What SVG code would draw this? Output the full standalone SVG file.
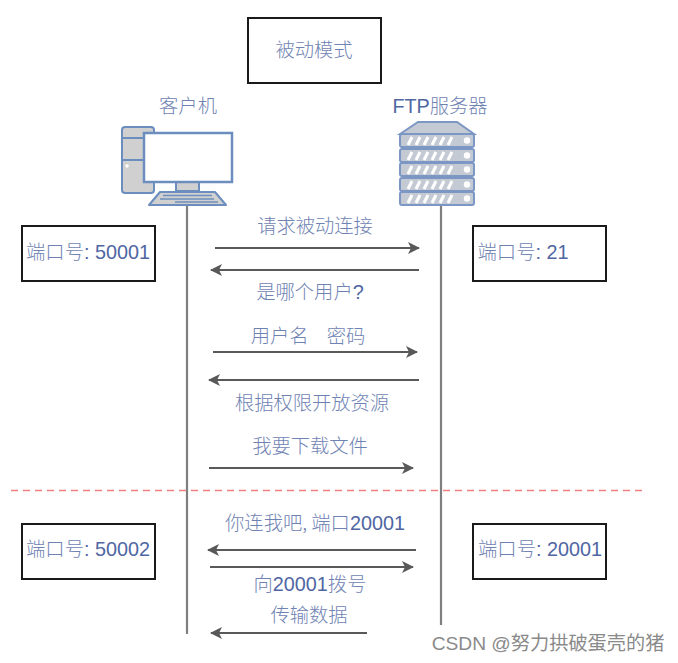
<svg xmlns="http://www.w3.org/2000/svg" width="678" height="663" viewBox="0 0 678 663">
<style>
text{font-family:"Liberation Sans","Noto Sans CJK SC",sans-serif;font-size:19.800px;fill:#4f66a3;text-anchor:middle}
.zh{font-family:"Noto Sans CJK SC",serif;font-weight:300;fill:#6f83b3;font-size:19.300px}
.box{fill:#fff;stroke:#1a1a1a;stroke-width:2}
.life{stroke:#7f7f7f;stroke-width:2.200;fill:none}
.msg{stroke:#595959;stroke-width:1.800;fill:none;marker-end:url(#a)}
.ic{fill:#d0d0d0;stroke:#6c8ebf;stroke-width:2;stroke-linejoin:round}
.sv{fill:#c4cad4;stroke:#7d97c4;stroke-width:2}
</style>
<defs><marker id="a" markerUnits="userSpaceOnUse" markerWidth="14" markerHeight="14" refX="11" refY="6" orient="auto"><path d="M0 0L12 6L0 12L3 6Z" fill="#595959"/></marker></defs>
<rect width="678" height="663" fill="#fff"/>
<g id="connectors">
<line class="life" x1="187" y1="205" x2="187" y2="634"/>
<line class="life" x1="441" y1="205" x2="441" y2="625"/>
<line class="msg" x1="215" y1="248" x2="419" y2="248"/>
<line class="msg" x1="419" y1="270" x2="211" y2="270"/>
<line class="msg" x1="213" y1="352" x2="417" y2="352"/>
<line class="msg" x1="419" y1="380" x2="209" y2="380"/>
<line class="msg" x1="209" y1="468" x2="413" y2="468"/>
<line x1="11" y1="490.500" x2="642" y2="490.500" stroke="#f08080" stroke-width="1.600" stroke-dasharray="7 5"/>
<line class="msg" x1="416" y1="550" x2="208" y2="550"/>
<line class="msg" x1="210" y1="567" x2="413" y2="567"/>
<line class="msg" x1="367" y1="633" x2="211" y2="633"/>
</g>
<g id="title"><rect class="box" x="248" y="18" width="133" height="65"/><text class="zh" x="314" y="57">被动模式</text></g>
<g id="client">
<text class="zh" x="188" y="113">客户机</text>
<rect class="ic" x="122" y="127" width="32" height="66" rx="3"/>
<path class="ic" d="M122 138H144M122 160H144"/>
<circle cx="127" cy="166" r="1.800" fill="#fff"/>
<rect class="ic" x="176" y="181" width="23" height="10"/>
<rect x="144" y="133" width="88" height="49" fill="#fff" stroke="#6c8ebf" stroke-width="2.500"/>
<path class="ic" d="M160 192H215L226 205H149Z"/>
<path d="M163 195.500H212M160 199H214M175 202H218" stroke="#6c8ebf" stroke-width="1.500"/>
</g>
<g id="server">
<text x="440" y="113"><tspan>FTP</tspan><tspan class="zh">服务器</tspan></text>
<path class="sv" d="M400 134L418 122H457L474 134Z"/>
<g id="server-racks">
<rect class="sv" x="400" y="134" width="74" height="13" rx="2"/>
<rect class="sv" x="400" y="149" width="74" height="13" rx="2"/>
<rect class="sv" x="400" y="163" width="74" height="13" rx="2"/>
<rect class="sv" x="400" y="178" width="74" height="13" rx="2"/>
<rect class="sv" x="400" y="192" width="74" height="13" rx="2"/>
</g>
<path d="M408 145L412 137M416 145L420 137M424 145L428 137M432 145L436 137M440 145L444 137M448 145L452 137M408 160L412 152M416 160L420 152M424 160L428 152M432 160L436 152M440 160L444 152M448 160L452 152M408 174L412 166M416 174L420 166M424 174L428 166M432 174L436 166M440 174L444 166M448 174L452 166M408 189L412 181M416 189L420 181M424 189L428 181M432 189L436 181M440 189L444 181M448 189L452 181M408 203L412 195M416 203L420 195M424 203L428 195M432 203L436 195M440 203L444 195M448 203L452 195" stroke="#fff" stroke-width="3"/>
<circle cx="467" cy="140.500" r="3.200" fill="#fff"/><circle cx="467" cy="155.500" r="3.200" fill="#fff"/><circle cx="467" cy="169.500" r="3.200" fill="#fff"/><circle cx="467" cy="184.500" r="3.200" fill="#fff"/><circle cx="467" cy="198.500" r="3.200" fill="#fff"/>
</g>
<g id="port-50001"><rect class="box" x="22" y="226" width="133" height="55"/><text x="88" y="259"><tspan class="zh">端口号</tspan>: 50001</text></g>
<g id="port-21"><rect class="box" x="473" y="226" width="133" height="55"/><text x="523" y="259"><tspan class="zh">端口号</tspan>: 21</text></g>
<g id="port-50002"><rect class="box" x="22" y="524" width="133" height="55"/><text x="88" y="556"><tspan class="zh">端口号</tspan>: 50002</text></g>
<g id="port-20001"><rect class="box" x="473" y="524" width="133" height="55"/><text x="540" y="556"><tspan class="zh">端口号</tspan>: 20001</text></g>
<g id="labels">
<text class="zh" x="315" y="233">请求被动连接</text>
<text x="310" y="299"><tspan class="zh">是哪个用户</tspan>?</text>
<text x="308" y="343"><tspan class="zh">用户名</tspan><tspan class="zh" dx="18">密码</tspan></text>
<text class="zh" x="312" y="410">根据权限开放资源</text>
<text class="zh" x="310" y="453">我要下载文件</text>
<text x="315" y="530"><tspan class="zh">你连我吧, 端口</tspan>20001</text>
<text x="310" y="591"><tspan class="zh">向</tspan>20001<tspan class="zh">拨号</tspan></text>
<text class="zh" x="309" y="622">传输数据</text>
</g>
<text x="548" y="650" style="font-size:19.200px;fill:#8a8a8a">CSDN @努力拱破蛋壳的猪</text>
</svg>
